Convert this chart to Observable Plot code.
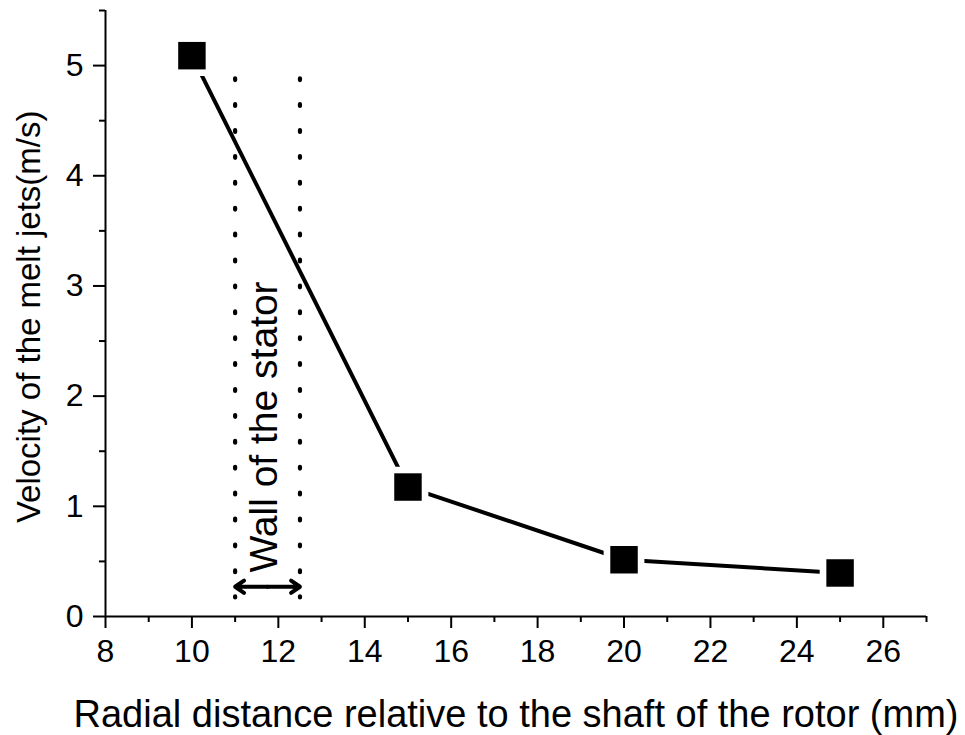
<!DOCTYPE html>
<html>
<head>
<meta charset="utf-8">
<script src="https://cdn.jsdelivr.net/npm/d3@7"></script>
<script src="https://cdn.jsdelivr.net/npm/@observablehq/plot@0.6"></script>
<style>
  html, body { margin: 0; padding: 0; background: #fff; }
  #chart { width: 965px; height: 735px; }
  svg { font-family: "Liberation Sans", Arial, sans-serif; }
</style>
</head>
<body>
<div id="chart"></div>
<script>
// Data
const distance = [10, 15, 20, 25];            // mm
const velocity = [5.09, 1.175, 0.515, 0.395]; // m/s
const wallEdges = [11, 12.5];                 // stator wall boundaries (mm)
const wallSpan = [4.88, 0.168];               // vertical extent of dotted lines (m/s)
const arrowY = 0.27;
const wallLabel = "Wall of the stator";
const xTitle = "Radial distance relative to the shaft of the rotor (mm)";
const yTitle = "Velocity of the melt jets(m/s)";
const xMajor = [8, 10, 12, 14, 16, 18, 20, 22, 24, 26];
const xMinor = [9, 11, 13, 15, 17, 19, 21, 23, 25, 27];
const yMajor = [0, 1, 2, 3, 4, 5];
const yMinor = [0.5, 1.5, 2.5, 3.5, 4.5, 5.5];

const pts = distance.map((d, i) => ({x: d, y: velocity[i]}));
const wallMid = (wallEdges[0] + wallEdges[1]) / 2;

const chart = Plot.plot({
  width: 965,
  height: 735,
  marginLeft: 105,
  marginRight: 39,
  marginTop: 10,
  marginBottom: 119,
  style: {background: "#fff", color: "#000", fontFamily: "Liberation Sans, Arial, sans-serif"},
  x: {domain: [8, 27], label: null},
  y: {domain: [0, 5.5], label: null},
  marks: [
    // axes
    Plot.axisX({ticks: xMajor, tickSize: 12, tickPadding: 11, fontSize: 32, strokeWidth: 2, label: null, tickFormat: "d"}),
    Plot.axisX({ticks: xMinor, tickSize: 6, tickFormat: () => "", strokeWidth: 2, label: null}),
    Plot.axisY({ticks: yMajor, tickSize: 12, tickPadding: 10, fontSize: 32, strokeWidth: 2, label: null, tickFormat: "d"}),
    Plot.axisY({ticks: yMinor, tickSize: 6, tickFormat: () => "", strokeWidth: 2, label: null}),
    Plot.ruleX([8], {strokeWidth: 2}),
    Plot.ruleY([0], {strokeWidth: 2}),
    // stator wall dotted lines
    Plot.ruleX(wallEdges, {
      x: d => d, y1: wallSpan[0], y2: wallSpan[1],
      stroke: "#000", strokeWidth: 4.2, strokeLinecap: "round", strokeDasharray: "1.8 24.1"
    }),
    // double-headed arrow
    Plot.arrow([wallEdges[0], wallEdges[1]], {
      x1: wallMid, x2: d => d, y1: arrowY, y2: arrowY,
      stroke: "#000", strokeWidth: 4, headLength: 18, headAngle: 70
    }),
    Plot.text([wallLabel], {
      x: 11.68, y: 1.72, text: d => d, rotate: -90,
      fontSize: 39, fill: "#000", textAnchor: "middle", lineAnchor: "middle"
    }),
    // data line
    Plot.line(pts, {x: "x", y: "y", stroke: "#000", strokeWidth: 4}),
    Plot.dot(pts, {x: "x", y: "y", symbol: "square", r: 23, fill: "#fff", stroke: "none"}),
    Plot.dot(pts, {x: "x", y: "y", symbol: "square", r: 15.5, fill: "#000", stroke: "none"}),
    // axis titles
    Plot.text([xTitle], {
      frameAnchor: "bottom", text: d => d, dy: 110, fontSize: 38,
      fill: "#000", lineAnchor: "bottom"
    }),
    Plot.text([yTitle], {
      x: 6.24, y: 2.72, text: d => d, rotate: -90, fontSize: 33,
      fill: "#000", textAnchor: "middle", lineAnchor: "middle"
    })
  ]
});
document.getElementById("chart").appendChild(chart);
</script>
</body>
</html>
